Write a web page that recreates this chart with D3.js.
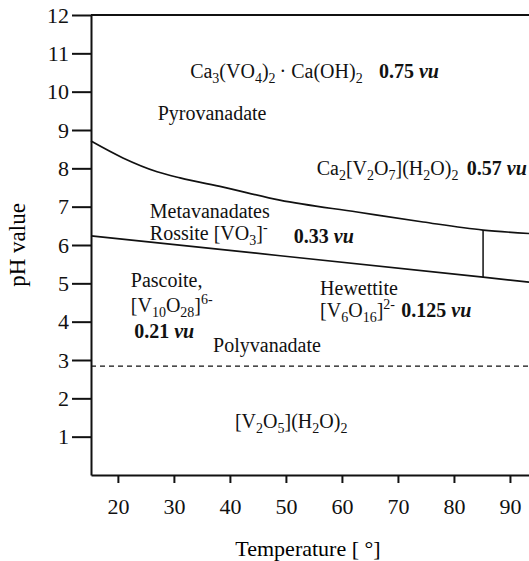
<!DOCTYPE html>
<html>
<head>
<meta charset="utf-8">
<script src="https://cdn.jsdelivr.net/npm/d3@7"></script>
<style>
  body { margin: 0; background: #fff; }
  svg { display: block; }
  .axis path, .axis line { stroke: #111; stroke-width: 2; }
</style>
</head>
<body>
<div id="chart"></div>
<script>
// boundaries of the phase diagram (temperature in deg, pH)
var upperT  = [15.2, 20.9, 27.0, 31.1, 38.8, 48.9, 62.7, 74.5, 85.2, 93.4];
var upperPH = [8.71, 8.27, 7.91, 7.75, 7.51, 7.17, 6.86, 6.60, 6.39, 6.30];
var lowerT  = [15.2, 49.0, 85.2, 93.4];
var lowerPH = [6.24, 5.72, 5.16, 5.03];
var dividerT = 85.2;
var dividerPH = [5.16, 6.39];
var dashedPH = 2.84;

var xTicks = [20, 30, 40, 50, 60, 70, 80, 90];
var yTicks = [1, 2, 3, 4, 5, 6, 7, 8, 9, 10, 11, 12];

// region names / formulas: _{..} subscript, ^{..} superscript
var labelText = [
  "Ca_{3}(VO_{4})_{2}\u2009\u00b7 Ca(OH)_{2}",
  "Pyrovanadate",
  "Ca_{2}[V_{2}O_{7}](H_{2}O)_{2}",
  "Metavanadates",
  "Rossite [VO_{3}]^{-}",
  "Pascoite,",
  "[V_{10}O_{28}]^{6-}",
  "Polyvanadate",
  "Hewettite",
  "[V_{6}O_{16}]^{2-}",
  "[V_{2}O_{5}](H_{2}O)_{2}"
];
var labelT  = [32.9, 27.1, 55.5, 25.7, 25.7, 22.3, 22.3, 37.0, 56.1, 56.1, 40.9];
var labelPH = [10.36, 9.26, 7.83, 6.70, 6.12, 4.90, 4.25, 3.21, 4.70, 4.12, 1.22];

// bond valence values
var vuValue = ["0.75", "0.57", "0.33", "0.21", "0.125"];
var vuT     = [66.6, 82.3, 51.4, 22.9, 70.6];
var vuPH    = [10.36, 7.83, 6.05, 3.57, 4.12];

var FONT = "'Liberation Serif', 'Times New Roman', Times, 'DejaVu Serif', serif";

var W = 529, H = 561;
var margin = {top: 15, left: 91, right: 0, bot: 86};

var svg = d3.select("#chart").append("svg")
    .attr("width", W)
    .attr("height", H)
    .style("font-family", FONT);

var x = d3.scaleLinear().domain([15.2, 93.4]).range([margin.left, W - margin.right]);
var y = d3.scaleLinear().domain([0, 12]).range([H - margin.bot, margin.top]);

// axes
svg.append("g")
    .attr("class", "axis")
    .attr("transform", "translate(0," + y(0) + ")")
    .call(d3.axisBottom(x).tickValues(xTicks).tickSize(8).tickSizeOuter(0).tickPadding(15))
    .attr("font-family", FONT)
    .attr("font-size", 22)
    .selectAll("text").attr("fill", "#111");

svg.append("g")
    .attr("class", "axis")
    .attr("transform", "translate(" + x(15.2) + ",0)")
    .call(d3.axisLeft(y).tickValues(yTicks).tickSize(19).tickSizeOuter(0).tickPadding(3))
    .attr("font-family", FONT)
    .attr("font-size", 22)
    .selectAll("text").attr("fill", "#111");

// top frame line
svg.append("line")
    .attr("x1", x(15.2)).attr("x2", W)
    .attr("y1", y(12)).attr("y2", y(12))
    .attr("stroke", "#111").attr("stroke-width", 2);

// axis titles
svg.append("text")
    .attr("x", 308).attr("y", 556)
    .attr("text-anchor", "middle")
    .attr("font-size", 22)
    .text("Temperature [ \u00b0]");

svg.append("text")
    .attr("transform", "translate(25," + ((y(0) + y(12)) / 2) + ") rotate(-90)")
    .attr("text-anchor", "middle")
    .attr("font-size", 23)
    .text("pH value");

// boundaries
var line = d3.line()
    .x(function(d) { return x(d[0]); })
    .y(function(d) { return y(d[1]); });

svg.append("path")
    .datum(d3.zip(upperT, upperPH))
    .attr("d", line.curve(d3.curveMonotoneX))
    .attr("fill", "none").attr("stroke", "#111").attr("stroke-width", 1.7);

svg.append("path")
    .datum(d3.zip(lowerT, lowerPH))
    .attr("d", line.curve(d3.curveLinear))
    .attr("fill", "none").attr("stroke", "#111").attr("stroke-width", 1.7);

svg.append("line")
    .attr("x1", x(dividerT)).attr("x2", x(dividerT))
    .attr("y1", y(dividerPH[0])).attr("y2", y(dividerPH[1]))
    .attr("stroke", "#111").attr("stroke-width", 1.5);

svg.append("line")
    .attr("x1", x(15.2)).attr("x2", W)
    .attr("y1", y(dashedPH)).attr("y2", y(dashedPH))
    .attr("stroke", "#111").attr("stroke-width", 1.2)
    .attr("stroke-dasharray", "5,4");

// rich text helper
function richText(sel, str) {
    var re = /([_^])\{([^}]*)\}|([^_^]+)/g, m, shift = 0;
    while ((m = re.exec(str)) !== null) {
	var ts = sel.append("tspan");
	if (m[1] == "_") {
	    ts.attr("dy", 5 - shift).attr("font-size", 14).text(m[2]);
	    shift = 5;
	} else if (m[1] == "^") {
	    ts.attr("dy", -8 - shift).attr("font-size", 14).text(m[2]);
	    shift = -8;
	} else {
	    ts.attr("dy", -shift).text(m[3]);
	    shift = 0;
	}
    }
}

labelText.forEach(function(s, i) {
    var t = svg.append("text")
	.attr("x", x(labelT[i]))
	.attr("y", y(labelPH[i]))
	.attr("font-size", 20)
	.attr("fill", "#111");
    richText(t, s);
});

vuValue.forEach(function(v, i) {
    var t = svg.append("text")
	.attr("x", x(vuT[i]))
	.attr("y", y(vuPH[i]))
	.attr("font-size", 20)
	.attr("font-weight", "bold")
	.attr("fill", "#111");
    t.append("tspan").text(v + " ");
    t.append("tspan").attr("font-style", "italic").text("vu");
});
</script>
</body>
</html>
